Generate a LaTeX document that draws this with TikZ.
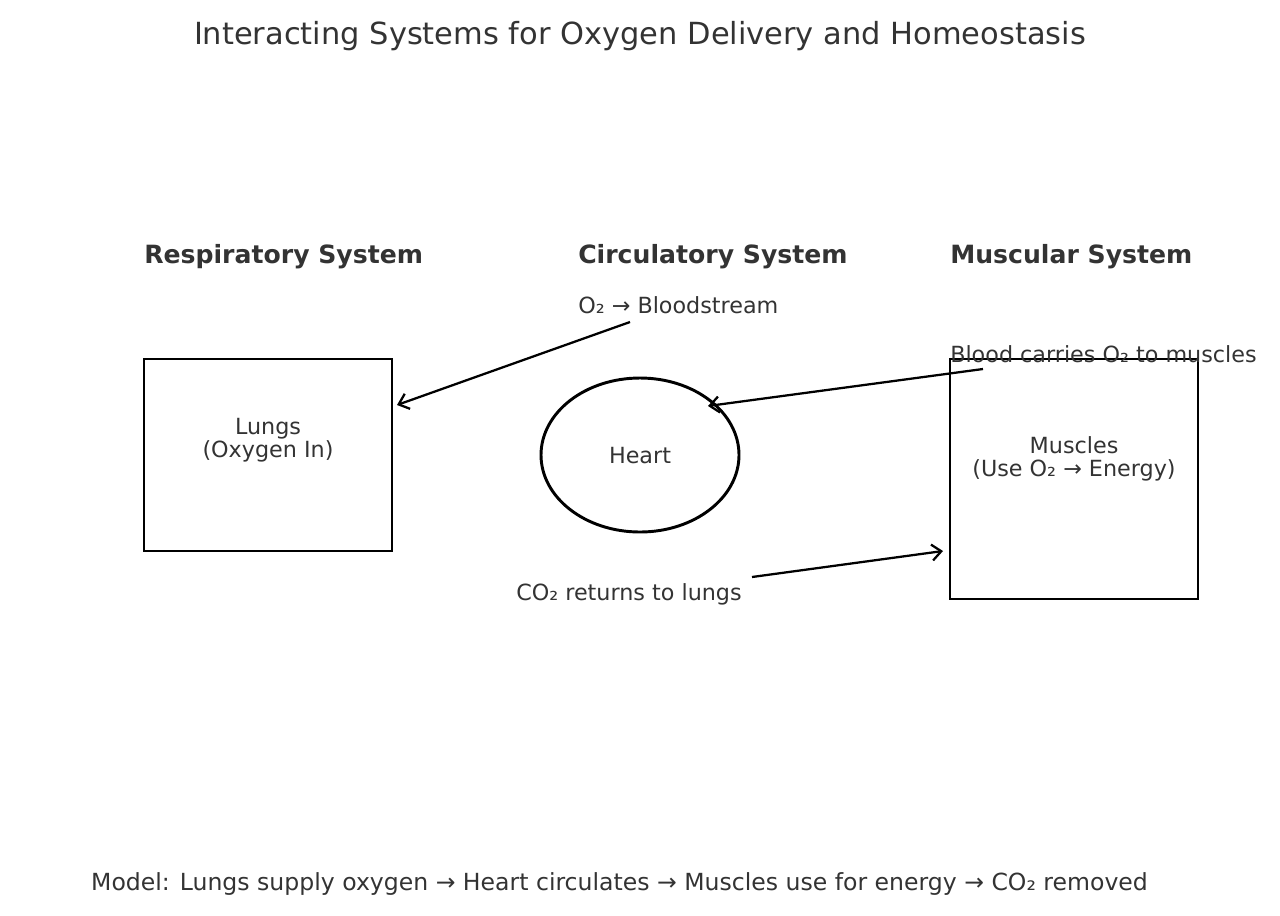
\documentclass[tikz,border=0pt]{standalone}
\usepackage{fontspec}
\setmainfont{DejaVu Sans}
\usetikzlibrary{arrows.meta,shapes.geometric}
\definecolor{txt}{HTML}{333333}
\tikzset{
  lbl/.style={text=txt,font=\fontsize{16.7}{17.3}\selectfont,inner sep=0pt},
  head/.style={text=txt,font=\fontsize{18.85}{22}\selectfont\bfseries,inner sep=0pt,anchor=west},
  box/.style={draw=black,line width=2.2pt,inner sep=0pt},
  conn/.style={draw=black,line width=1.7pt,-{Straight Barb[length=7pt,width=12pt,line width=1.7pt]}},
}
\begin{document}
\begin{tikzpicture}[x=0.75pt,y=-0.75pt]
\useasboundingbox (0,0) rectangle (1280,915);
\node[text=txt,font=\fontsize{22.85}{26}\selectfont,inner sep=0pt] (title) at (640,36) {Interacting Systems for Oxygen Delivery and Homeostasis};
\node[head] (resp) at (144,257) {Respiratory System};
\node[head] (circ) at (578,257) {Circulatory System};
\node[head] (musc) at (950,257) {Muscular System};
\draw[box] (144,359) rectangle (392,551);
\node[lbl,align=center] (lungs) at (268,440) {Lungs\\(Oxygen In)};
\node[box,ellipse,minimum width=148.5pt,minimum height=115.5pt] (heartshape) at (640,455) {};
\node[lbl] (heart) at (640,456) {Heart};
\draw[box] (950,359) rectangle (1198,599);
\node[lbl,align=center] (muscles) at (1074,459) {Muscles\\(Use O₂ → Energy)};
\node[lbl,anchor=west] (o2) at (578,305) {O₂ → Bloodstream};
\node[lbl,anchor=west] (blood) at (950,354) {Blood carries O₂ to muscles};
\node[lbl] (co2) at (629,594) {CO₂ returns to lungs};
\node[text=txt,font=\fontsize{17.67}{20}\selectfont,inner sep=0pt] (model) at (619.5,884) {Model: Lungs supply oxygen → Heart circulates → Muscles use for energy → CO₂ removed};
\coordinate (a1s) at (630,322);
\coordinate (a1e) at (397,405);
\coordinate (a2s) at (983,369);
\coordinate (a2e) at (708,406);
\coordinate (a3s) at (752,577);
\coordinate (a3e) at (943,551);
\draw[conn] (a1s) -- (a1e);
\draw[conn] (a2s) -- (a2e);
\draw[conn] (a3s) -- (a3e);
\end{tikzpicture}
\end{document}
